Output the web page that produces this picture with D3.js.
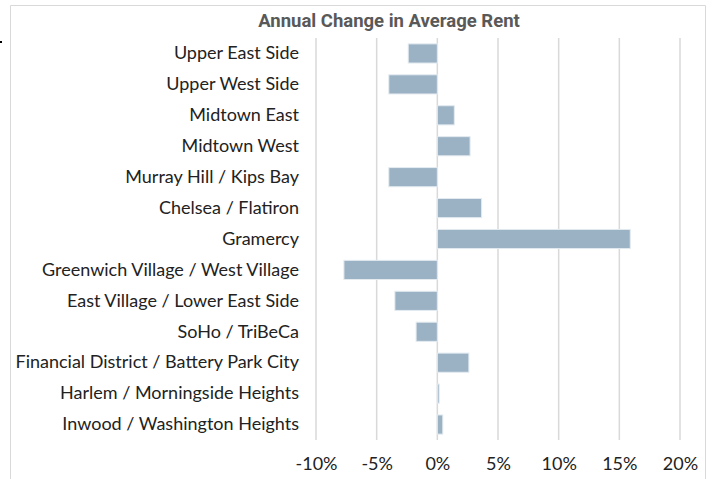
<!DOCTYPE html>
<html>
<head>
<meta charset="utf-8">
<script src="https://cdn.jsdelivr.net/npm/d3@7"></script>
<style>
  body { margin: 0; background: #fff; }
  svg { display: block; }
</style>
</head>
<body>
<div id="chart"></div>
<script>
// Data_____________________________________
const neighborhoods = [
  "Upper East Side", "Upper West Side", "Midtown East", "Midtown West",
  "Murray Hill / Kips Bay", "Chelsea / Flatiron", "Gramercy",
  "Greenwich Village / West Village", "East Village / Lower East Side",
  "SoHo / TriBeCa", "Financial District / Battery Park City",
  "Harlem / Morningside Heights", "Inwood / Washington Heights"
];
const changes = [-2.4, -4.0, 1.4, 2.7, -4.0, 3.65, 15.9, -7.7, -3.5, -1.75, 2.6, 0.15, 0.45];
const xTicks = [-10, -5, 0, 5, 10, 15, 20];
const title = "Annual Change in Average Rent";

// Sizes_____________________________________
const width = 715;
const height = 479;
const plot = { left: 316, right: 680, top: 38, bottom: 440 };

const svg = d3.select('#chart')
  .append('svg')
  .attr('width', width)
  .attr('height', height);

// frame (open at the bottom)
svg.append('path')
  .attr('d', `M10.5,${height} V5.5 H705.5 V${height}`)
  .attr('fill', 'none')
  .attr('stroke', '#d9d9d9')
  .attr('stroke-width', 1);

// stray mark at the left edge
svg.append('rect')
  .attr('x', 0).attr('y', 41).attr('width', 2).attr('height', 2)
  .attr('fill', '#000');

svg.append('text')
  .attr('x', 389)
  .attr('y', 27)
  .attr('text-anchor', 'middle')
  .attr('font-family', 'Roboto, sans-serif')
  .attr('font-weight', 'bold')
  .attr('font-size', 18.5)
  .attr('fill', '#595959')
  .text(title);

// Scales_____________________________________
const xScale = d3.scaleLinear()
  .domain([-10, 20])
  .range([plot.left, plot.right]);
const yScale = d3.scaleBand()
  .domain(neighborhoods)
  .range([plot.top, plot.bottom])
  .paddingInner(0.38)
  .paddingOuter(0.19);

// gridlines
svg.append('g')
  .selectAll('line')
  .data(xTicks)
  .enter()
  .append('line')
  .attr('x1', d => xScale(d))
  .attr('x2', d => xScale(d))
  .attr('y1', plot.top)
  .attr('y2', plot.bottom)
  .attr('stroke', '#d9d9d9')
  .attr('stroke-width', 1.5);

// x axis labels
const xAxis = d3.axisBottom(xScale)
  .tickValues(xTicks)
  .tickSize(0)
  .tickPadding(0)
  .tickFormat(d => `${d}%`);
const gx = svg.append('g')
  .attr('transform', `translate(0, ${plot.bottom + 17})`)
  .call(xAxis);
gx.select('.domain').remove();
gx.selectAll('text')
  .attr('font-family', 'Lato, sans-serif')
  .attr('font-size', 18)
  .attr('fill', '#222');

// y axis labels
const yAxis = d3.axisLeft(yScale)
  .tickSize(0)
  .tickPadding(0);
const gy = svg.append('g')
  .attr('transform', `translate(299, 0)`)
  .call(yAxis);
gy.select('.domain').remove();
gy.selectAll('text')
  .attr('font-family', 'Lato, sans-serif')
  .attr('font-size', 18)
  .attr('fill', '#222');

// Bars_____________________________________
svg.append('g')
  .selectAll('rect')
  .data(neighborhoods)
  .enter()
  .append('rect')
  .attr('x', (d, i) => xScale(Math.min(0, changes[i])))
  .attr('width', (d, i) => Math.abs(xScale(changes[i]) - xScale(0)))
  .attr('y', d => yScale(d))
  .attr('height', yScale.bandwidth())
  .attr('fill', '#9bb2c5')
  .attr('stroke', '#e4ebf0')
  .attr('stroke-width', 1);
</script>
</body>
</html>
